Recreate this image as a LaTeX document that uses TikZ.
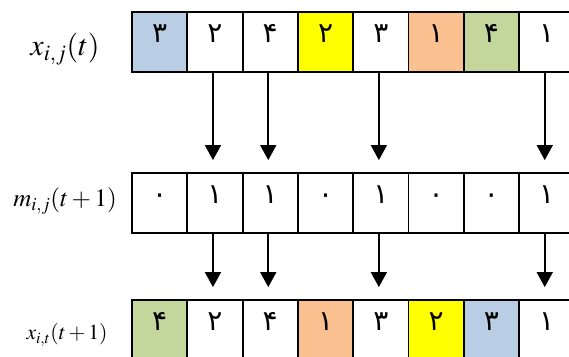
\documentclass[tikz,border=0pt]{standalone}
\usepackage{mathptmx}
\usepackage{fontspec}
\setmainfont{Liberation Serif}
\newfontfamily\persianfont[Script=Arabic]{DejaVu Sans}
\usetikzlibrary{arrows.meta, positioning}
\definecolor{cellblue}{HTML}{B9CDE5}
\definecolor{cellorange}{HTML}{FAC090}
\definecolor{cellgreen}{HTML}{C3D69B}
\definecolor{cellyellow}{HTML}{FFFF00}

\begin{document}
\begin{tikzpicture}[x=1pt, y=-1pt,
		cell/.style={draw, line width=1.8pt, minimum width=55.3pt, minimum height=60pt,
			inner sep=0pt, text height=22pt, text depth=22pt,
			font=\persianfont\fontsize{28}{30}\selectfont},
		lbl/.style={inner sep=0pt},
		arr/.style={-{Triangle[length=15pt, width=16pt]}, line width=1.6pt, shorten >=12pt}]
	\clip (0,0) rectangle (569,356);
	% x_{i,j}(t)
	\foreach \d/\c [count=\i] in {۳/cellblue, ۲/white, ۴/white, ۲/cellyellow, ۳/white, ۱/cellorange, ۴/cellgreen, ۱/white}
		\node[cell, fill=\c] (x\i) at ({132+55.3*(\i-0.5)}, 42) {\d};
	% m_{i,j}(t+1)
	\foreach \d [count=\i] in {۰, ۱, ۱, ۰, ۱, ۰, ۰, ۱}
		\node[cell] (m\i) at ({132+55.3*(\i-0.5)}, 203) {\d};
	% x_{i,t}(t+1)
	\foreach \d/\c [count=\i] in {۴/cellgreen, ۲/white, ۴/white, ۱/cellorange, ۳/white, ۲/cellyellow, ۳/cellblue, ۱/white}
		\node[cell, fill=\c] (y\i) at ({132+55.3*(\i-0.5)}, 330) {\d};
	\node[lbl, font=\fontsize{30}{34}\selectfont] (lx) at (65,49) {$x_{i,j}(t)$};
	\node[lbl, font=\fontsize{25}{29}\selectfont] (lm) at (65,201) {$m_{i,j}(t+1)$};
	\node[lbl, font=\fontsize{21.5}{25}\selectfont] (ly) at (67,335) {$x_{i,t}(t+1)$};
	\foreach \i in {2,3,5,8} {
		\draw[arr] ([xshift=-2pt]x\i.south) -- ([xshift=-2pt]m\i.north);
		\draw[arr] ([xshift=-2pt]m\i.south) -- ([xshift=-2pt]y\i.north);
	}
\end{tikzpicture}
\end{document}
